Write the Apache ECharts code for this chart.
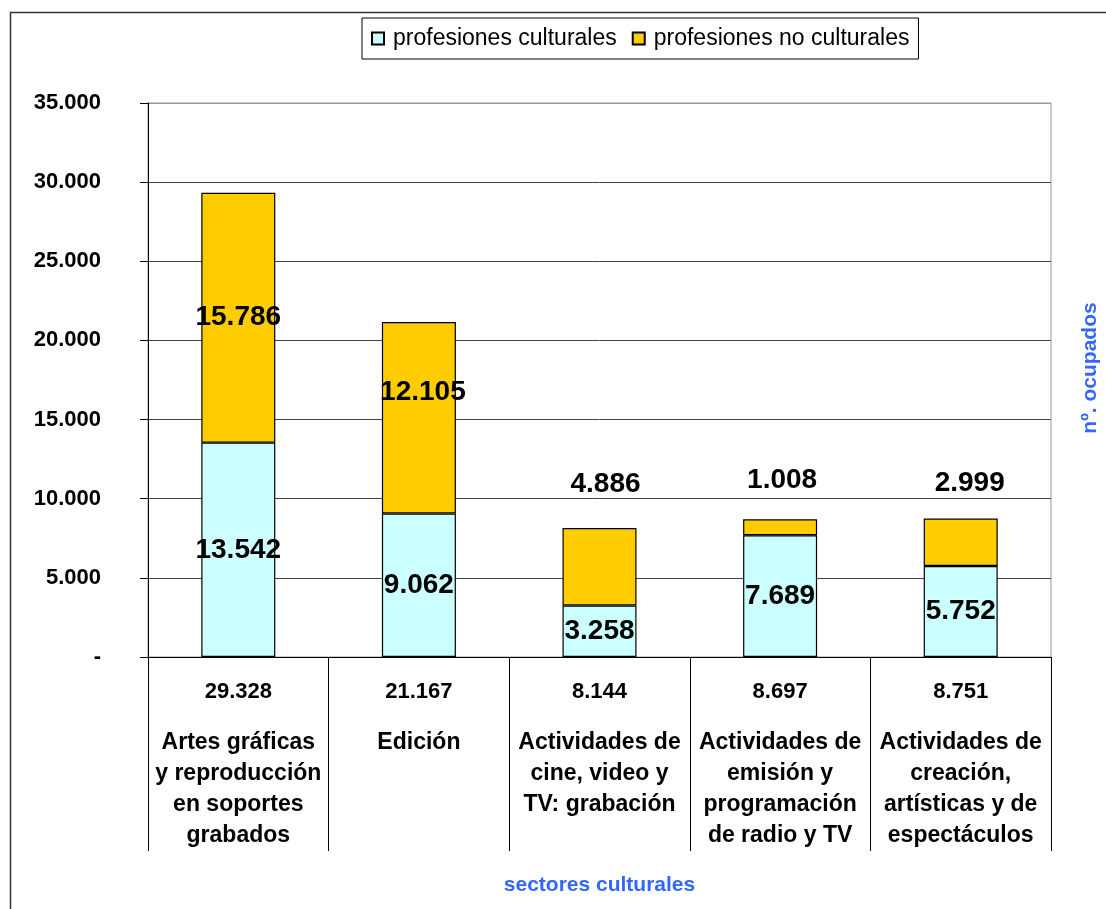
<!DOCTYPE html>
<html>
<head>
<meta charset="utf-8">
<script src="https://cdn.jsdelivr.net/npm/echarts@6/dist/echarts.min.js"></script>
<style>
  html, body { margin: 0; padding: 0; background: #fff; }
  #chart { width: 1106px; height: 909px; }
</style>
</head>
<body>
<div id="chart"></div>
<script>
const categories = [
  'Artes gráficas\ny reproducción\nen soportes\ngrabados',
  'Edición',
  'Actividades de\ncine, video y\nTV: grabación',
  'Actividades de\nemisión y\nprogramación\nde radio y TV',
  'Actividades de\ncreación,\nartísticas y de\nespectáculos'
]
const culturales = [13542, 9062, 3258, 7689, 5752]
const noCulturales = [15786, 12105, 4886, 1008, 2999]
const yTicks = [0, 5000, 10000, 15000, 20000, 25000, 30000, 35000]

const totals = culturales.map((v, i) => v + noCulturales[i])

const fmt = (v) => v === 0 ? '-' : String(v).replace(/\B(?=(\d{3})+(?!\d))/g, '.')

const FONT = 'Liberation Sans, Arial, sans-serif'
const BLUE = '#3366ff'

// Label placement for the "no culturales" segments (mirrors the Excel layout)
const topLabelCfg = [
  { position: 'inside' },
  { position: 'inside', offset: [4, -25] },
  { position: 'top', distance: 30, offset: [6, 0] },
  { position: 'top', distance: 25, offset: [2, 0] },
  { position: 'top', distance: 21, offset: [9, 0] }
]

const chart = echarts.init(document.getElementById('chart'))

const labelBase = {
  show: true,
  color: '#000',
  fontFamily: FONT,
  fontWeight: 'bold',
  fontSize: 28,
  formatter: (p) => fmt(p.value)
}

chart.setOption({
  animation: false,
  textStyle: { fontFamily: FONT },
  legend: {
    left: 362,
    top: 18,
    padding: [9, 9, 9, 9],
    borderColor: '#000',
    borderWidth: 1,
    itemWidth: 12,
    itemHeight: 12,
    itemGap: 15,
    icon: 'rect',
    textStyle: { fontSize: 23, color: '#000', fontFamily: FONT, padding: [0, 0, 0, 4] },
    data: ['profesiones culturales', 'profesiones no culturales']
  },
  grid: {
    left: 148,
    right: 55,
    top: 103,
    bottom: 252,
    show: true,
    borderColor: '#999',
    borderWidth: 1
  },
  xAxis: {
    type: 'category',
    data: categories,
    name: 'sectores culturales',
    nameLocation: 'middle',
    nameGap: 218,
    nameTextStyle: { color: BLUE, fontSize: 21, fontWeight: 'bold', fontFamily: FONT },
    axisLine: { lineStyle: { color: '#000', width: 1 } },
    axisTick: { show: true, length: 194, lineStyle: { color: '#000' } },
    axisLabel: {
      interval: 0,
      margin: 0,
      hideOverlap: false,
      formatter: (value, idx) => {
        const lines = value.split('\n').map(l => `{n|${l}}`)
        return `{t|${fmt(totals[idx])}}\n` + lines.join('\n')
      },
      rich: {
        t: { fontSize: 22, fontWeight: 'bold', color: '#000', lineHeight: 70, fontFamily: FONT },
        n: { fontSize: 23, fontWeight: 'bold', color: '#000', lineHeight: 31, fontFamily: FONT }
      }
    }
  },
  yAxis: {
    type: 'value',
    min: yTicks[0],
    max: yTicks[yTicks.length - 1],
    interval: 5000,
    axisLine: { show: true, lineStyle: { color: '#000' } },
    axisTick: { show: true, length: 8, lineStyle: { color: '#000' } },
    axisLabel: {
      margin: 47,
      color: '#000',
      fontSize: 22,
      fontWeight: 'bold',
      fontFamily: FONT,
      formatter: (v) => fmt(v)
    },
    splitLine: {
      lineStyle: { color: ['#444', '#444', '#444', '#444', '#444', '#444', '#444', '#999'], width: 1 }
    }
  },
  series: [
    {
      name: 'profesiones culturales',
      type: 'bar',
      stack: 'total',
      barWidth: 74,
      data: culturales,
      itemStyle: { color: '#ccffff', borderColor: '#000', borderWidth: 1.2 },
      label: Object.assign({ position: 'inside' }, labelBase)
    },
    {
      name: 'profesiones no culturales',
      type: 'bar',
      stack: 'total',
      barWidth: 74,
      data: noCulturales.map((v, i) => ({
        value: v,
        label: topLabelCfg[i]
      })),
      itemStyle: { color: '#ffcc00', borderColor: '#000', borderWidth: 1.2 },
      label: labelBase
    }
  ],
  graphic: [
    {
      type: 'rect',
      silent: true,
      shape: { x: 10.5, y: 12.5, width: 1200, height: 1000 },
      style: { fill: 'none', stroke: '#333', lineWidth: 1.5 }
    },
    {
      type: 'text',
      x: 1090,
      y: 368,
      rotation: Math.PI / 2,
      style: {
        text: 'nº. ocupados',
        fill: BLUE,
        font: 'bold 21px ' + FONT,
        align: 'center',
        verticalAlign: 'middle'
      }
    }
  ]
})
</script>
</body>
</html>
